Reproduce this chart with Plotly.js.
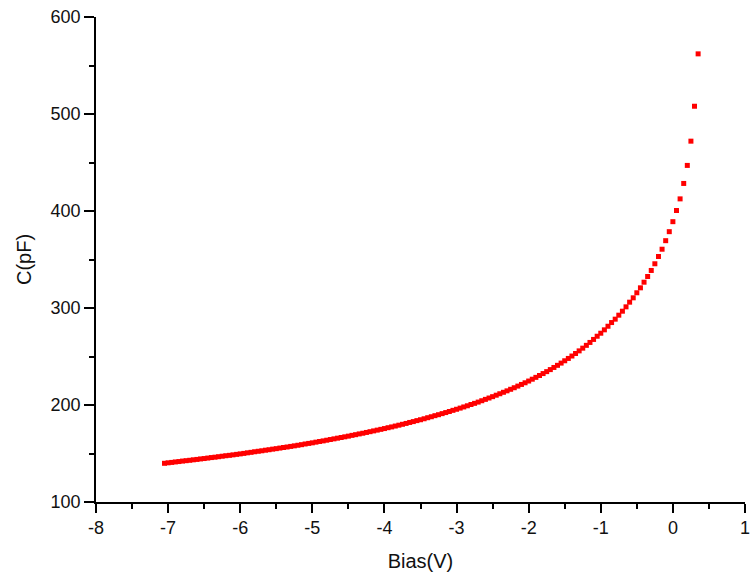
<!DOCTYPE html>
<html>
<head>
<meta charset="utf-8">
<script src="https://cdn.plot.ly/plotly-3.0.1.min.js"></script>
<style>
  html, body { margin: 0; padding: 0; background: #fff; }
  #chart { width: 752px; height: 580px; }
</style>
</head>
<body>
<div id="chart"></div>
<script>
// Bias voltage (V), 0.05 V steps
const bias = [
  -7.05, -7.00, -6.95, -6.90, -6.85, -6.80, -6.75, -6.70, -6.65, -6.60,
  -6.55, -6.50, -6.45, -6.40, -6.35, -6.30, -6.25, -6.20, -6.15, -6.10,
  -6.05, -6.00, -5.95, -5.90, -5.85, -5.80, -5.75, -5.70, -5.65, -5.60,
  -5.55, -5.50, -5.45, -5.40, -5.35, -5.30, -5.25, -5.20, -5.15, -5.10,
  -5.05, -5.00, -4.95, -4.90, -4.85, -4.80, -4.75, -4.70, -4.65, -4.60,
  -4.55, -4.50, -4.45, -4.40, -4.35, -4.30, -4.25, -4.20, -4.15, -4.10,
  -4.05, -4.00, -3.95, -3.90, -3.85, -3.80, -3.75, -3.70, -3.65, -3.60,
  -3.55, -3.50, -3.45, -3.40, -3.35, -3.30, -3.25, -3.20, -3.15, -3.10,
  -3.05, -3.00, -2.95, -2.90, -2.85, -2.80, -2.75, -2.70, -2.65, -2.60,
  -2.55, -2.50, -2.45, -2.40, -2.35, -2.30, -2.25, -2.20, -2.15, -2.10,
  -2.05, -2.00, -1.95, -1.90, -1.85, -1.80, -1.75, -1.70, -1.65, -1.60,
  -1.55, -1.50, -1.45, -1.40, -1.35, -1.30, -1.25, -1.20, -1.15, -1.10,
  -1.05, -1.00, -0.95, -0.90, -0.85, -0.80, -0.75, -0.70, -0.65, -0.60,
  -0.55, -0.50, -0.45, -0.40, -0.35, -0.30, -0.25, -0.20, -0.15, -0.10,
  -0.05, 0.00, 0.05, 0.10, 0.15, 0.20, 0.25, 0.30, 0.35
];

// Capacitance (pF)
const capacitance = [
  139.9, 140.4, 140.8, 141.3, 141.7, 142.2, 142.6, 143.0, 143.5, 143.9,
  144.4, 144.8, 145.3, 145.8, 146.2, 146.7, 147.2, 147.7, 148.1, 148.6,
  149.1, 149.6, 150.1, 150.7, 151.2, 151.8, 152.3, 152.8, 153.4, 153.9,
  154.5, 155.0, 155.6, 156.2, 156.7, 157.3, 157.9, 158.5, 159.1, 159.8,
  160.4, 161.0, 161.7, 162.4, 163.0, 163.7, 164.4, 165.1, 165.8, 166.5,
  167.2, 167.9, 168.7, 169.4, 170.2, 170.9, 171.7, 172.5, 173.3, 174.1,
  174.9, 175.7, 176.6, 177.4, 178.3, 179.2, 180.1, 181.0, 182.0, 182.9,
  183.9, 184.8, 185.8, 186.9, 187.9, 189.0, 190.0, 191.1, 192.2, 193.3,
  194.5, 195.6, 196.8, 198.0, 199.2, 200.5, 201.7, 203.0, 204.4, 205.8,
  207.2, 208.6, 210.1, 211.6, 213.1, 214.6, 216.2, 217.8, 219.5, 221.2,
  222.9, 224.7, 226.6, 228.5, 230.4, 232.4, 234.4, 236.5, 238.7, 240.9,
  243.2, 245.6, 248.0, 250.5, 253.1, 255.8, 258.6, 261.5, 264.5, 267.6,
  270.9, 274.0, 277.5, 281.2, 285.0, 288.5, 292.6, 296.7, 301.2, 306.0,
  310.5, 315.7, 320.8, 326.6, 332.5, 338.7, 345.6, 353.1, 360.6, 369.4,
  378.7, 389.0, 400.5, 412.5, 428.4, 447.0, 472.0, 508.0, 562.0
];

const xTickVals = [-8, -7, -6, -5, -4, -3, -2, -1, 0, 1];
const xTickText = ['-8', '-7', '-6', '-5', '-4', '-3', '-2', '-1', '0', '1'];
const yTickVals = [100, 200, 300, 400, 500, 600];
const yTickText = ['100', '200', '300', '400', '500', '600'];

const fontFamily = '"Liberation Sans", Arial, "DejaVu Sans", sans-serif';

const trace = {
  x: bias,
  y: capacitance,
  type: 'scatter',
  mode: 'markers',
  marker: { symbol: 'square', size: 5, color: '#ff0000', line: { width: 0 } },
  hoverinfo: 'x+y',
  showlegend: false,
  cliponaxis: false
};

const layout = {
  width: 752,
  height: 580,
  margin: { l: 96, r: 7, t: 17, b: 78, pad: 0 },
  paper_bgcolor: '#ffffff',
  plot_bgcolor: '#ffffff',
  font: { family: fontFamily, color: '#111111', size: 18 },
  xaxis: {
    range: [-8, 1],
    tickmode: 'array',
    tickvals: xTickVals,
    ticktext: xTickText,
    ticks: 'outside',
    ticklen: 9,
    tickwidth: 1.5,
    tickcolor: '#000',
    ticklabeloverflow: 'allow',
    showline: true,
    linecolor: '#000',
    linewidth: 1.5,
    showgrid: false,
    zeroline: false,
    tickfont: { family: fontFamily, size: 18, color: '#111111' },
    minor: { dtick: 0.5, ticks: 'outside', ticklen: 5, tickwidth: 1.5, tickcolor: '#000', showgrid: false },
    title: { text: 'Bias(V)', font: { family: fontFamily, size: 20, color: '#111111' }, standoff: 17 }
  },
  yaxis: {
    range: [100, 600],
    tickmode: 'array',
    tickvals: yTickVals,
    ticktext: yTickText,
    ticks: 'outside',
    ticklen: 10,
    tickwidth: 1.5,
    tickcolor: '#000',
    ticklabeloverflow: 'allow',
    showline: true,
    linecolor: '#000',
    linewidth: 1.5,
    showgrid: false,
    zeroline: false,
    tickfont: { family: fontFamily, size: 18, color: '#111111' },
    minor: { dtick: 50, ticks: 'outside', ticklen: 5, tickwidth: 1.5, tickcolor: '#000', showgrid: false },
    title: { text: 'C(pF)', font: { family: fontFamily, size: 20, color: '#111111' }, standoff: 14 }
  }
};

Plotly.newPlot('chart', [trace], layout, { displayModeBar: false });
</script>
</body>
</html>
